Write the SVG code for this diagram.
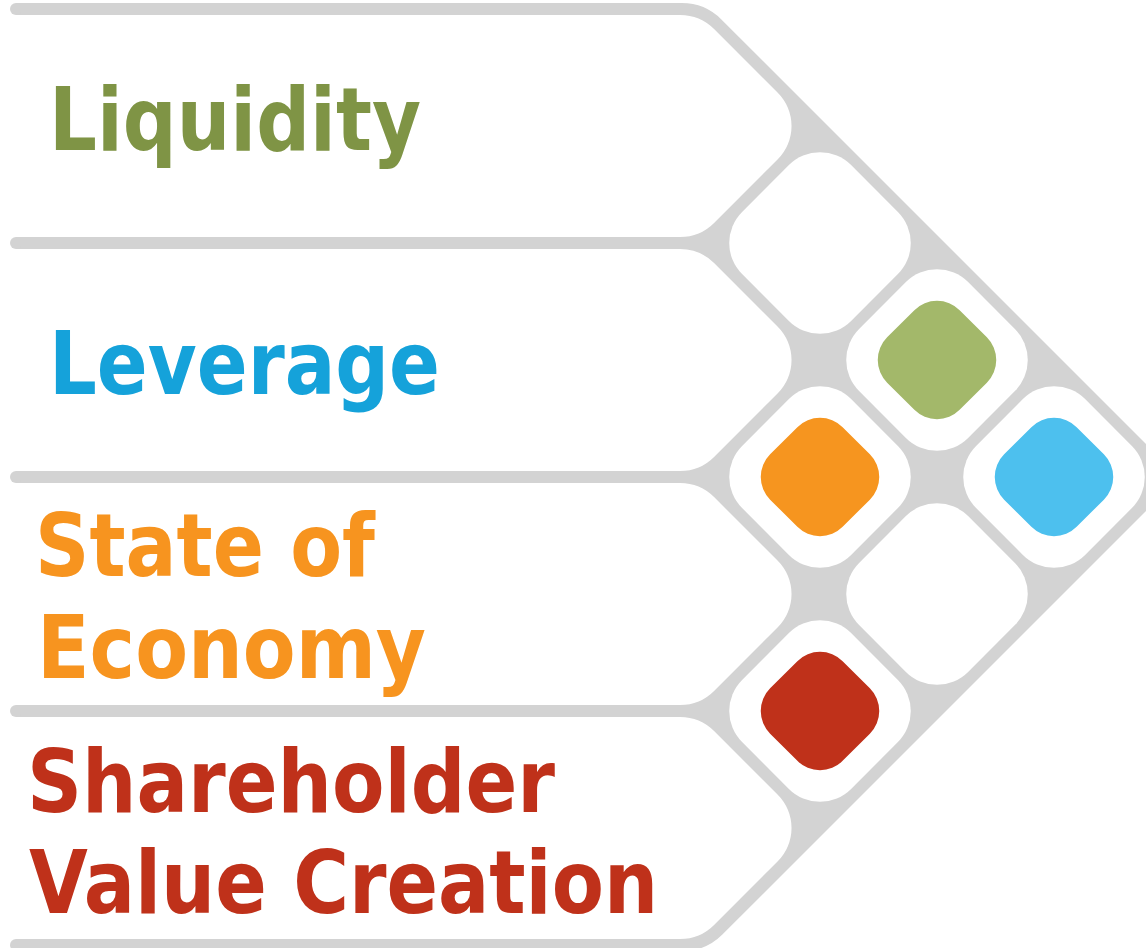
<svg xmlns="http://www.w3.org/2000/svg" width="1146" height="948" viewBox="0 0 1146 948">
  <style>
    .frame { fill: #d3d3d3; }
    .band { fill: #ffffff; }
    .cell { fill: #ffffff; }
    .lbl { font-family: "DejaVu Sans", "Liberation Sans", sans-serif; font-weight: bold; font-size: 87px; }
  </style>
  <defs>
    <!-- band: horizontal strip ending in a rounded point, top edge at y=0 -->
    <path id="bandShape" d="M -10 0 H 680.1 A 48 48 0 0 1 714.07 14.07 L 777.77 77.77 A 47 47 0 0 1 777.77 144.23 L 714.07 207.93 A 48 48 0 0 1 680.1 222 H -10 Z"/>
    <!-- rounded diamond cell, centred on 0,0 -->
    <path id="cellShape" d="M -31.11 -77.89 A 44 44 0 0 1 31.11 -77.89 L 77.89 -31.11 A 44 44 0 0 1 77.89 31.11 L 31.11 77.89 A 44 44 0 0 1 -31.11 77.89 L -77.89 31.11 A 44 44 0 0 1 -77.89 -31.11 Z"/>
    <!-- small coloured marker diamond, centred on 0,0 -->
    <path id="markShape" d="M -22.63 -49.87 A 32 32 0 0 1 22.63 -49.87 L 49.87 -22.63 A 32 32 0 0 1 49.87 22.63 L 22.63 49.87 A 32 32 0 0 1 -22.63 49.87 L -49.87 22.63 A 32 32 0 0 1 -49.87 -22.63 Z"/>
  </defs>

  <!-- grey chevron frame with rounded bar ends -->
  <g id="frame" class="frame">
    <path d="M 16 3 H 681.8 A 56 56 0 0 1 721.4 19.4 L 1179.5 477.5 L 722.4 934.6 A 56 56 0 0 1 682.8 951 H 16 Z"/>
    <circle cx="16" cy="9" r="6"/>
    <circle cx="16" cy="243" r="6"/>
    <circle cx="16" cy="477" r="6"/>
    <circle cx="16" cy="711" r="6"/>
    <circle cx="16" cy="945" r="6"/>
  </g>

  <g id="band-liquidity">
    <use href="#bandShape" class="band" transform="translate(0,15)"/>
    <text class="lbl" x="49" y="150" fill="#7f9445" textLength="372" lengthAdjust="spacingAndGlyphs">Liquidity</text>
  </g>

  <g id="band-leverage">
    <use href="#bandShape" class="band" transform="translate(0,249)"/>
    <text class="lbl" x="49" y="394" fill="#15a2da" textLength="391" lengthAdjust="spacingAndGlyphs">Leverage</text>
  </g>

  <g id="band-economy">
    <use href="#bandShape" class="band" transform="translate(0,483)"/>
    <text class="lbl" x="35" y="576" fill="#f7941f" textLength="340" lengthAdjust="spacingAndGlyphs">State of</text>
    <text class="lbl" x="37" y="678" fill="#f7941f" textLength="389" lengthAdjust="spacingAndGlyphs">Economy</text>
  </g>

  <g id="band-shareholder">
    <use href="#bandShape" class="band" transform="translate(0,717)"/>
    <text class="lbl" x="27" y="812" fill="#bf311a" textLength="528" lengthAdjust="spacingAndGlyphs">Shareholder</text>
    <text class="lbl" x="29" y="913" fill="#bf311a" textLength="629" lengthAdjust="spacingAndGlyphs">Value Creation</text>
  </g>

  <!-- diamond grid -->
  <g id="cell-a"><use href="#cellShape" class="cell" transform="translate(820,243)"/></g>
  <g id="cell-green">
    <use href="#cellShape" class="cell" transform="translate(937,360)"/>
    <use href="#markShape" fill="#a3b86a" transform="translate(937,360)"/>
  </g>
  <g id="cell-orange">
    <use href="#cellShape" class="cell" transform="translate(820,477)"/>
    <use href="#markShape" fill="#f6951f" transform="translate(820,477)"/>
  </g>
  <g id="cell-blue">
    <use href="#cellShape" class="cell" transform="translate(1054,477)"/>
    <use href="#markShape" fill="#4dc0ee" transform="translate(1054,477)"/>
  </g>
  <g id="cell-e"><use href="#cellShape" class="cell" transform="translate(937,594)"/></g>
  <g id="cell-red">
    <use href="#cellShape" class="cell" transform="translate(820,711)"/>
    <use href="#markShape" fill="#bf311a" transform="translate(820,711)"/>
  </g>
</svg>
